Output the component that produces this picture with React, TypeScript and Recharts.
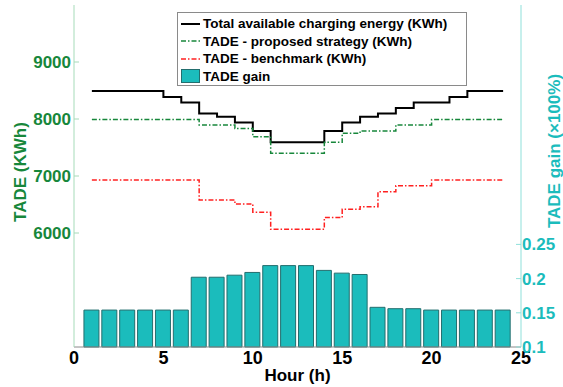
import {
  Bar,
  ComposedChart,
  Label,
  Legend,
  Line,
  XAxis,
  YAxis,
} from "recharts";

const HOURS = [1, 2, 3, 4, 5, 6, 7, 8, 9, 10, 11, 12, 13, 14, 15, 16, 17, 18, 19, 20, 21, 22, 23, 24];
const TOTAL_ENERGY = [
  8490, 8490, 8490, 8490, 8385, 8290, 8095, 8040, 7940, 7790, 7590, 7590,
  7590, 7790, 7940, 8040, 8095, 8195, 8290, 8290, 8385, 8490, 8490, 8490,
];
const TADE_PROPOSED = [
  7990, 7990, 7990, 7990, 7990, 7990, 7895, 7895, 7835, 7690, 7400, 7400,
  7400, 7590, 7750, 7790, 7790, 7895, 7895, 7990, 7990, 7990, 7990, 7990,
];
const TADE_BENCHMARK = [
  6930, 6930, 6930, 6930, 6930, 6930, 6580, 6580, 6510, 6365, 6065, 6065,
  6065, 6270, 6415, 6460, 6725, 6830, 6830, 6930, 6930, 6930, 6930, 6930,
];
const TADE_GAIN = [
  0.154, 0.154, 0.154, 0.154, 0.154, 0.154, 0.202, 0.202, 0.205, 0.209, 0.219, 0.219,
  0.219, 0.212, 0.208, 0.206, 0.158, 0.156, 0.156, 0.154, 0.154, 0.154, 0.154, 0.154,
];

const X_TICKS = [0, 5, 10, 15, 20, 25];
const LEFT_TICKS = [6000, 7000, 8000, 9000];
const RIGHT_TICKS = [0.1, 0.15, 0.2, 0.25];

const FONT = '"Liberation Sans", Arial, sans-serif';
const GREEN = "#17873b";
const TEAL = "#1bbcbc";
const RED = "#ff2020";
const DASH_DOT = "5 2 1.5 2";

const rows = HOURS.map((hour, i) => ({
  hour,
  total: TOTAL_ENERGY[i],
  proposed: TADE_PROPOSED[i],
  benchmark: TADE_BENCHMARK[i],
  gain: TADE_GAIN[i],
}));

const LEGEND_ITEMS = [
  { label: "Total available charging energy (KWh)", color: "#000", width: 2, dash: undefined, bar: false },
  { label: "TADE - proposed strategy (KWh)", color: GREEN, width: 1.5, dash: DASH_DOT, bar: false },
  { label: "TADE - benchmark (KWh)", color: RED, width: 1.5, dash: DASH_DOT, bar: false },
  { label: "TADE gain", color: TEAL, width: 1, dash: undefined, bar: true },
];

function renderLegend() {
  return (
    <div
      style={{
        border: "1px solid #8a8a8a",
        background: "#fff",
        padding: "2px 0 0 3px",
        fontFamily: FONT,
        fontWeight: 700,
        fontSize: 13.5,
        color: "#000",
        lineHeight: 1,
      }}
    >
      {LEGEND_ITEMS.map((item) => (
        <div key={item.label} style={{ display: "flex", alignItems: "center", height: 17.5 }}>
          <svg width={19} height={14} style={{ marginRight: 3 }}>
            {item.bar ? (
              <rect x={0.5} y={0.5} width={18} height={13} fill={TEAL} stroke="#236e6e" />
            ) : (
              <line
                x1={0}
                x2={19}
                y1={7}
                y2={7}
                stroke={item.color}
                strokeWidth={item.width}
                strokeDasharray={item.dash}
              />
            )}
          </svg>
          <span>{item.label}</span>
        </div>
      ))}
    </div>
  );
}

function axisTitle(text: string, color: string, dx: number, dy: number, rotate: boolean) {
  return (props: any) => {
    const vb = props.viewBox ?? { x: 0, y: 0, width: 0, height: 0 };
    const cx = vb.x + dx;
    const cy = vb.y + dy;
    return (
      <text
        x={cx}
        y={cy}
        fill={color}
        fontFamily={FONT}
        fontWeight={700}
        fontSize={17}
        textAnchor="middle"
        dominantBaseline="central"
        transform={rotate ? `rotate(-90 ${cx} ${cy})` : undefined}
      >
        {text}
      </text>
    );
  };
}

export default function App() {
  return (
    <div style={{ position: "absolute", left: 0, top: 0, background: "#fff" }}>
      <ComposedChart
        width={563}
        height={387}
        data={rows}
        margin={{ top: 5, right: 8, bottom: 7, left: 8 }}
      >
        <XAxis
          xAxisId="bottom"
          dataKey="hour"
          type="number"
          domain={[0, 25]}
          ticks={X_TICKS}
          height={33}
          tickLine={false}
          tickSize={0}
          tickMargin={4}
          axisLine={{ stroke: "#8a8a8a" }}
          tick={{ fill: "#000", fontFamily: FONT, fontWeight: 700, fontSize: 18 }}
        >
          <Label content={axisTitle("Hour (h)", "#000", 223.5, 28, false)} />
        </XAxis>
        <XAxis
          xAxisId="top"
          orientation="top"
          type="number"
          domain={[0, 25]}
          ticks={X_TICKS}
          height={0}
          tick={false}
          tickSize={-5}
          axisLine={{ stroke: "#a6dbb9" }}
          tickLine={{ stroke: "#a6dbb9" }}
        />
        <YAxis
          yAxisId="left"
          domain={[4000, 10000]}
          ticks={LEFT_TICKS}
          width={66}
          tickSize={-5}
          tickMargin={8}
          axisLine={{ stroke: "#a6dbb9" }}
          tickLine={{ stroke: "#a6dbb9" }}
          tick={{ fill: GREEN, fontFamily: FONT, fontWeight: 700, fontSize: 17 }}
        >
          <Label content={axisTitle("TADE (KWh)", GREEN, 12, 167, true)} />
        </YAxis>
        <YAxis
          yAxisId="leftMirror"
          orientation="right"
          domain={[4000, 10000]}
          ticks={LEFT_TICKS}
          width={0}
          tick={false}
          tickSize={-5}
          axisLine={false}
          tickLine={{ stroke: "#a6dbb9" }}
        />
        <YAxis
          yAxisId="right"
          orientation="right"
          domain={[0.1, 0.6]}
          ticks={RIGHT_TICKS}
          width={34}
          tickSize={-5}
          tickMargin={6}
          axisLine={{ stroke: "#8fe0da" }}
          tickLine={{ stroke: "#8fe0da" }}
          tick={{ fill: TEAL, fontFamily: FONT, fontWeight: 700, fontSize: 17 }}
        >
          <Label content={axisTitle("TADE gain (\u00d7100%)", TEAL, 33, 146, true)} />
        </YAxis>
        <Legend
          layout="vertical"
          align="center"
          verticalAlign="middle"
          content={renderLegend}
          wrapperStyle={{ left: 177, top: 12, width: 290 }}
        />
        <Bar
          xAxisId="bottom"
          yAxisId="right"
          dataKey="gain"
          barSize={15}
          fill={TEAL}
          stroke="#236e6e"
          strokeWidth={1}
          isAnimationActive={false}
        />
        <Line
          xAxisId="bottom"
          yAxisId="left"
          type="stepAfter"
          dataKey="total"
          stroke="#000"
          strokeWidth={2}
          dot={false}
          isAnimationActive={false}
        />
        <Line
          xAxisId="bottom"
          yAxisId="left"
          type="stepAfter"
          dataKey="proposed"
          stroke={GREEN}
          strokeWidth={1.5}
          strokeDasharray={DASH_DOT}
          dot={false}
          isAnimationActive={false}
        />
        <Line
          xAxisId="bottom"
          yAxisId="left"
          type="stepAfter"
          dataKey="benchmark"
          stroke={RED}
          strokeWidth={1.5}
          strokeDasharray={DASH_DOT}
          dot={false}
          isAnimationActive={false}
        />
      </ComposedChart>
    </div>
  );
}
